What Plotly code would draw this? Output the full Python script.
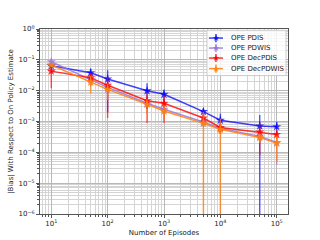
import plotly.graph_objects as go

episodes = [10, 50, 100, 500, 1000, 5000, 10000, 50000, 100000]

pdis = [0.064, 0.038, 0.024, 0.0099, 0.0076, 0.0021, 0.0011, 0.00072, 0.00068]
pdis_err = [0.01, 0.014, 0.022, 0.0074, 0.0034, 0.0006, 0.0007, 0.0009, 0.0003]

pdwis = [0.087, 0.023, 0.0128, 0.0039, 0.0025, 0.00096, 0.0006, 0.00033, 0.00021]
pdwis_err = [0.01, 0.004, 0.003, 0.001, 0.0006, 0.0003, 0.0002, 0.0001, 0.00017]

decpdis = [0.043, 0.026, 0.015, 0.0047, 0.0039, 0.0013, 0.00064, 0.00046, 0.00038]
decpdis_err = [0.031, 0.012, 0.0137, 0.0038, 0.003, 0.0005, 0.0002, 0.00038, 0.00011]

decpdwis = [0.068, 0.019, 0.011, 0.0036, 0.0022, 0.00087, 0.00056, 0.0003, 0.0002]
decpdwis_err = [0.01, 0.011, 0.006, 0.0018, 0.0011, 0.0012, 0.0007, 0.0001, 0.00015]

names = ["OPE PDIS", "OPE PDWIS", "OPE DecPDIS", "OPE DecPDWIS"]
series = [pdis, pdwis, decpdis, decpdwis]
errors = [pdis_err, pdwis_err, decpdis_err, decpdwis_err]
colors = ["rgba(0,0,255,0.75)", "rgba(147,112,219,0.8)", "rgba(255,0,0,0.8)", "rgba(255,127,14,0.85)"]
err_colors = ["rgba(0,0,255,0.6)", "rgba(147,112,219,0.6)", "rgba(255,0,0,0.6)", "rgba(255,127,14,0.75)"]

ytick_vals = [1e0, 1e-1, 1e-2, 1e-3, 1e-4, 1e-5, 1e-6]
ytick_text = ["10<sup>0</sup>", "10<sup>−1</sup>", "10<sup>−2</sup>", "10<sup>−3</sup>",
              "10<sup>−4</sup>", "10<sup>−5</sup>", "10<sup>−6</sup>"]
xtick_vals = [10, 100, 1000, 10000, 100000]
xtick_text = ["10<sup>1</sup>", "10<sup>2</sup>", "10<sup>3</sup>", "10<sup>4</sup>", "10<sup>5</sup>"]

fig = go.Figure()
for name, y, e, c, ec in zip(names, series, errors, colors, err_colors):
    fig.add_trace(go.Scatter(
        x=episodes, y=y, name=name, mode="lines+markers",
        line=dict(color=c, width=1.5),
        marker=dict(symbol="star", size=7, color=c),
        error_y=dict(type="data", array=e, visible=True, color=ec, thickness=1.5, width=0),
        showlegend=False,
    ))

# Hand-drawn legend (matplotlib style, compact)
shapes = [dict(type="rect", xref="x domain", yref="y domain",
               x0=0.673, x1=0.992, y0=0.748, y1=0.993,
               fillcolor="rgba(255,255,255,0.8)", line=dict(color="#cccccc", width=1),
               layer="above")]
annotations = []
entry_y = [0.951, 0.897, 0.843, 0.786]
for name, c, ey in zip(names, colors, entry_y):
    shapes.append(dict(type="line", xref="x domain", yref="y domain",
                       x0=0.681, x1=0.738, y0=ey, y1=ey,
                       line=dict(color=c, width=1.5), layer="above"))
    shapes.append(dict(type="line", xref="x domain", yref="y domain",
                       x0=0.7095, x1=0.7095, y0=ey - 0.022, y1=ey + 0.022,
                       line=dict(color=c, width=1.5), layer="above"))
    annotations.append(dict(xref="x domain", yref="y domain", x=0.7095, y=ey,
                            text="★", showarrow=False, font=dict(size=9, color=c),
                            xanchor="center", yanchor="middle"))
    annotations.append(dict(xref="x domain", yref="y domain", x=0.762, y=ey,
                            text=name, showarrow=False, font=dict(size=7, color="#222222"),
                            xanchor="left", yanchor="middle"))

grid_major = "#b8b8b8"
grid_minor = "#d4d4d4"
font = "DejaVu Sans"

fig.update_layout(
    width=320, height=240,
    margin=dict(l=40, r=32, t=29, b=26),
    paper_bgcolor="white", plot_bgcolor="white",
    font=dict(family=font, size=7, color="#222222"),
    showlegend=False,
    shapes=shapes, annotations=annotations,
)
fig.update_xaxes(
    type="log", range=[0.8, 5.2], automargin=False,
    tickvals=xtick_vals, ticktext=xtick_text,
    ticks="outside", ticklen=3, tickcolor="#555555",
    showgrid=True, gridcolor=grid_major, gridwidth=0.8,
    minor=dict(dtick="D1", showgrid=True, gridcolor=grid_minor, gridwidth=0.6,
               ticks="outside", ticklen=2, tickcolor="#555555"),
    showline=True, linecolor="#555555", linewidth=1, mirror=True,
    zeroline=False,
    title=dict(text="Number of Episodes", font=dict(size=7), standoff=2),
    tickfont=dict(size=7),
)
fig.update_yaxes(
    type="log", range=[-6, 0], automargin=False,
    tickvals=ytick_vals, ticktext=ytick_text,
    ticks="outside", ticklen=3, tickcolor="#555555",
    showgrid=True, gridcolor=grid_major, gridwidth=0.8,
    minor=dict(dtick="D1", showgrid=True, gridcolor=grid_minor, gridwidth=0.6,
               ticks="outside", ticklen=2, tickcolor="#555555"),
    showline=True, linecolor="#555555", linewidth=1, mirror=True,
    zeroline=False,
    title=dict(text="|Bias| With Respect to On Policy Estimate", font=dict(size=7), standoff=4),
    tickfont=dict(size=7),
)

fig.write_html("out.html", config={"displayModeBar": False},
               post_script="document.body.style.margin='0';")
